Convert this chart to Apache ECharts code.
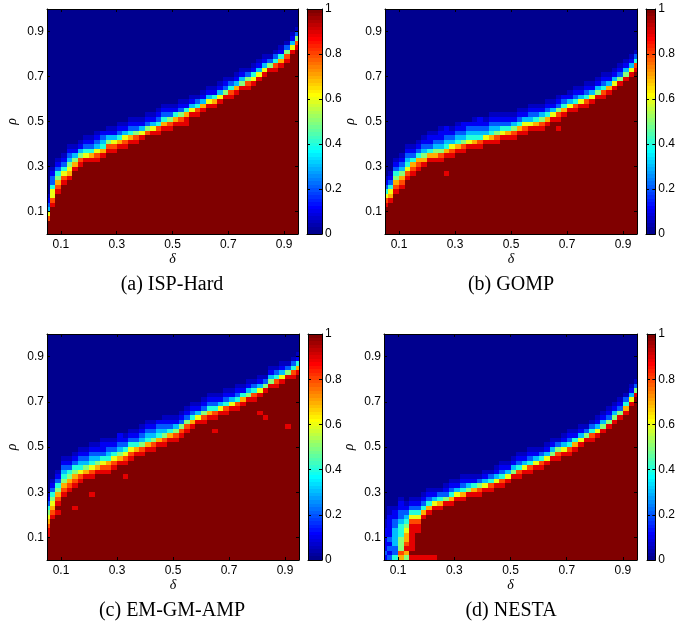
<!DOCTYPE html>
<html><head><meta charset="utf-8">
<script src="https://cdn.jsdelivr.net/npm/echarts@6/dist/echarts.min.js"></script>
<style>html,body{margin:0;padding:0;background:#fff}#c{width:678px;height:622px}</style>
</head><body><div id="c"></div>
<script>
// ---- tick labels / captions ----
const deltaTicks = [0.1, 0.3, 0.5, 0.7, 0.9];
const rhoTicks = [0.1, 0.3, 0.5, 0.7, 0.9];
const colorbarTicks = [0, 0.2, 0.4, 0.6, 0.8, 1];
const captions = ['(a) ISP-Hard', '(b) GOMP', '(c) EM-GM-AMP', '(d) NESTA'];

// ---- grid coordinates (cell centres) ----
const deltaGrid = []; for (let i = 0; i < 46; i++) deltaGrid.push(+(0.05 + 0.02 * i).toFixed(2));
const rhoGrid = []; for (let j = 0; j < 50; j++) rhoGrid.push(+(0.01 + 0.02 * j).toFixed(2));

// ---- per-column readings: [first non-full row, values upward]; X=1, o=0.05, digit=d/10; below=1, above=0 ----
const ispHardCols = [
 [3,"86321o"],[6,"98664221o"],[9,"9875421o"],[11,"986421o"],[12,"9765321o"],[13,"X97531o"],
 [15,"98531o"],[15,"X96421o"],[16,"97421o"],[16,"986321o"],[17,"974321"],[17,"X98531o"],
 [18,"98631o"],[19,"97421o"],[19,"98631o"],[20,"97421o"],[19,"X98521o"],[20,"X9631o"],
 [21,"X8521o"],[22,"9631o"],[22,"98421o"],[23,"97421o"],[23,"98521o"],[24,"9741o"],
 [24,"98521o"],[25,"9741o"],[25,"X9631o"],[26,"9842o"],[27,"9731o"],[27,"X9631o"],
 [28,"9741o"],[29,"9631o"],[29,"X9521o"],[30,"9842o"],[31,"9731o"],[31,"X9531o"],
 [32,"9852o"],[33,"9641o"],[34,"9631o"],[35,"9631o"],[35,"X952o"],[36,"9842o"],
 [37,"9741o"],[38,"9852o"],[40,"9631o"],[41,"9852o"]
];
const ispHardSpots = [[25,24,0.9]];

const gompCols = [
 [6,"986421o"],[6,"X976421o"],[9,"9875421o"],[10,"9875321o"],[12,"9864321o"],[13,"987421o"],
 [14,"987421o"],[15,"975321o"],[15,"X974211o"],[16,"975321o"],[16,"9853211o"],[17,"9743211"],
 [17,"986321o"],[18,"974321o"],[18,"9853211"],[18,"X964321"],[19,"974321o"],[19,"9843211"],
 [19,"X96321o"],[20,"974321o"],[20,"985321o"],[20,"X96421o"],[21,"97421o"],[21,"98531o"],
 [22,"97421o"],[22,"98631o"],[22,"X96321o"],[23,"97421o"],[23,"98531o"],[24,"97421o"],
 [25,"9631o"],[25,"98521o"],[26,"97421"],[27,"9631o"],[27,"98421o"],[28,"9631o"],
 [28,"98421o"],[29,"9631o"],[29,"X9531o"],[30,"98421o"],[31,"9731o"],[32,"9631o"],
 [32,"X9521o"],[33,"X9531o"],[35,"9631o"],[36,"9842o"]
];
const gompSpots = [[11,13,0.9],[31,23,0.9]];

const emgmampCols = [
 [5,"998765421o"],[9,"98765421o"],[11,"X9875421o"],[14,"98754321o"],[15,"9875421o"],[16,"9875421o"],
 [17,"9864321o"],[17,"X975321o"],[18,"9864321o"],[18,"X975321o"],[19,"9864211o"],[19,"9874321o"],
 [20,"986421o"],[21,"9753211"],[21,"986421o"],[22,"986421o"],[22,"X97421o"],[23,"985321o"],
 [24,"974321o"],[24,"985321o"],[25,"974321"],[25,"985321o"],[26,"97421o"],[26,"98531o"],
 [27,"98521o"],[28,"98521o"],[29,"97421o"],[30,"9631o"],[30,"98521o"],[31,"97421o"],
 [31,"98421o"],[32,"9631o"],[32,"98421o"],[33,"9631o"],[33,"98421o"],[34,"9741o"],
 [34,"X9531o"],[35,"9842o"],[36,"9631o"],[36,"X952o"],[37,"X9531o"],[38,"9842o"],
 [39,"9631o"],[39,"X952o"],[40,"9842o"],[41,"9741o"]
];
const emgmampSpots = [[2,10,0.9],[5,11,0.9],[8,14,0.9],[14,18,0.9],[30,28,0.9],[38,32,0.9],[39,31,0.9],[43,29,0.9]];

const nestaCols = [
 [0,"1211111oo"],[0,"2121211111oo"],[0,"42233332211o"],[0,"7855544432211o"],[0,"579877654321o"],
 [0,"9X99999986421o"],[0,"9XXXXX9986421o"],[0,"9XXXXXXXX97421o"],[0,"9XXXXXXXXX97421o"],
 [11,"9631o"],[11,"9742o"],[11,"X9521o"],[12,"97421o"],[12,"X9631o"],[13,"97421o"],
 [13,"X9531o"],[14,"9741o"],[14,"9852o"],[15,"9631o"],[15,"9842o"],[16,"9631o"],
 [16,"98421o"],[17,"9631o"],[17,"X9531o"],[18,"98421o"],[19,"9631o"],[19,"98421o"],
 [20,"9631o"],[20,"9842o"],[21,"9631o"],[21,"X9531o"],[22,"9852o"],[23,"9631o"],
 [23,"98421o"],[24,"9741o"],[25,"9631o"],[25,"X952o"],[26,"9842o"],[27,"9631o"],
 [27,"X9531o"],[28,"X9521o"],[29,"X9531o"],[30,"X9521o"],[32,"9742o"],[33,"X9631o"],[35,"X952o"]
];
const nestaSpots = [[9,0,0.9]];

// ---- build tables ----
const charVal = c => c === 'X' ? 1 : c === 'o' ? 0.05 : (+c) / 10;
function buildCells(cols, spots) {
  const out = [];
  cols.forEach(([s, str], i) => {
    for (let j = 0; j < rhoGrid.length; j++) {
      let v;
      if (j < s) v = 1; else if (j - s < str.length) v = charVal(str[j - s]); else v = 0;
      out.push([deltaGrid[i], rhoGrid[j], v]);
    }
  });
  spots.forEach(([i, j, v]) => { out[i * rhoGrid.length + j][2] = v; });
  return out;
}

// MATLAB jet(64)
function jetPalette(n) {
  const m = n / 4;
  const u = p => (p >= 1 && p <= m) ? p / m : (p > m && p <= 2 * m - 1) ? 1 : (p >= 2 * m && p <= 3 * m - 1) ? (3 * m - p) / m : 0;
  const hx = x => ('0' + Math.round(x * 255).toString(16)).slice(-2);
  const out = [];
  for (let k = 1; k <= n; k++) out.push('#' + hx(u(k - 24)) + hx(u(k - 8)) + hx(u(k + 8)));
  return out;
}
const palette = jetPalette(64);
const colorbarData = [];
for (let k = 0; k < 64; k++) colorbarData.push([0.5, (k + 0.5) / 64, k / 63, k / 64, (k + 1) / 64]);

const panels = [
  { cells: buildCells(ispHardCols, ispHardSpots), main: [47, 9, 251, 225], cb: [307, 9, 15, 225], cap: [172, 285] },
  { cells: buildCells(gompCols, gompSpots), main: [385, 9, 252, 225], cb: [646, 9, 15, 225], cap: [511, 285] },
  { cells: buildCells(emgmampCols, emgmampSpots), main: [47, 334, 252, 226], cb: [308, 334, 14, 226], cap: [172, 611] },
  { cells: buildCells(nestaCols, nestaSpots), main: [384, 334, 253, 226], cb: [647, 334, 14, 226], cap: [511, 611] }
];

const sansFont = 'Liberation Sans, Arial, sans-serif';
const serifFont = 'Liberation Serif, Times New Roman, serif';
const axisLine = { show: true, onZero: false, lineStyle: { color: '#000', width: 1 } };
const tick = vals => ({ show: true, inside: true, length: 3, lineStyle: { color: '#000', width: 1 }, customValues: vals });
const lbl = (vals, margin) => ({ show: true, color: '#000', fontSize: 12, fontFamily: sansFont, margin, customValues: vals,
  formatter: v => String(+(+v).toFixed(1)) });
const nameStyle = { fontFamily: serifFont, fontStyle: 'italic', fontSize: 14, color: '#000' };

const grid = [], xAxis = [], yAxis = [], series = [], graphic = [];
panels.forEach((p, k) => {
  const gm = grid.length;
  grid.push({ left: p.main[0], top: p.main[1], width: p.main[2], height: p.main[3] });
  const gc = grid.length;
  grid.push({ left: p.cb[0], top: p.cb[1], width: p.cb[2], height: p.cb[3] });

  const xm = xAxis.length;
  xAxis.push({ type: 'value', gridIndex: gm, min: 0.05, max: 0.95, position: 'bottom', z: 10, axisLine,
    axisTick: tick(deltaTicks), axisLabel: lbl(deltaTicks, 5), splitLine: { show: false },
    name: 'δ', nameLocation: 'middle', nameGap: 15, nameTextStyle: nameStyle });
  xAxis.push({ type: 'value', gridIndex: gm, min: 0.05, max: 0.95, position: 'top', z: 10, axisLine,
    axisTick: tick(deltaTicks), axisLabel: { show: false }, splitLine: { show: false } });
  const xc = xAxis.length;
  xAxis.push({ type: 'value', gridIndex: gc, min: 0, max: 1, position: 'bottom', z: 10, axisLine,
    axisTick: { show: false }, axisLabel: { show: false }, splitLine: { show: false } });
  xAxis.push({ type: 'value', gridIndex: gc, min: 0, max: 1, position: 'top', z: 10, axisLine,
    axisTick: { show: false }, axisLabel: { show: false }, splitLine: { show: false } });

  const ym = yAxis.length;
  yAxis.push({ type: 'value', gridIndex: gm, min: 0, max: 1, position: 'left', z: 10, axisLine,
    axisTick: tick(rhoTicks), axisLabel: lbl(rhoTicks, 3), splitLine: { show: false },
    name: 'ρ', nameLocation: 'middle', nameGap: 28, nameRotate: 90, nameTextStyle: nameStyle });
  yAxis.push({ type: 'value', gridIndex: gm, min: 0, max: 1, position: 'right', z: 10, axisLine,
    axisTick: tick(rhoTicks), axisLabel: { show: false }, splitLine: { show: false } });
  const yc = yAxis.length;
  yAxis.push({ type: 'value', gridIndex: gc, min: 0, max: 1, position: 'right', z: 10, axisLine,
    axisTick: tick(colorbarTicks), axisLabel: lbl(colorbarTicks, 3), splitLine: { show: false } });
  yAxis.push({ type: 'value', gridIndex: gc, min: 0, max: 1, position: 'left', z: 10, axisLine,
    axisTick: tick(colorbarTicks), axisLabel: { show: false }, splitLine: { show: false } });

  series.push({ type: 'custom', xAxisIndex: xm, yAxisIndex: ym, data: p.cells, clip: true, animation: false,
    encode: { x: 0, y: 1 },
    renderItem: (params, api) => {
      const x = api.value(0), y = api.value(1);
      const a = api.coord([x - 0.01, y + 0.01]), b = api.coord([x + 0.01, y - 0.01]);
      const x0 = Math.round(a[0]), y0 = Math.round(a[1]), x1 = Math.round(b[0]), y1 = Math.round(b[1]);
      return { type: 'rect', shape: { x: x0, y: y0, width: x1 - x0, height: y1 - y0 }, style: { fill: api.visual('color') } };
    } });
  series.push({ type: 'custom', xAxisIndex: xc, yAxisIndex: yc, data: colorbarData, clip: true, animation: false,
    encode: { x: 0, y: 1 },
    renderItem: (params, api) => {
      const a = api.coord([0, api.value(4)]), b = api.coord([1, api.value(3)]);
      const y0 = Math.round(a[1]), y1 = Math.round(b[1]);
      return { type: 'rect', shape: { x: a[0], y: y0, width: b[0] - a[0], height: y1 - y0 }, style: { fill: api.visual('color') } };
    } });

  graphic.push({ type: 'text', x: p.cap[0], y: p.cap[1],
    style: { text: captions[k], font: '20px ' + serifFont, fill: '#000', align: 'center', verticalAlign: 'middle',
      textAlign: 'center', textVerticalAlign: 'middle' } });
});

const chart = echarts.init(document.getElementById('c'), null, { renderer: 'canvas' });
chart.setOption({
  animation: false,
  backgroundColor: '#fff',
  grid, xAxis, yAxis, series, graphic,
  visualMap: { type: 'continuous', show: false, min: 0, max: 1, dimension: 2,
    seriesIndex: series.map((s, i) => i), inRange: { color: palette } }
});
</script></body></html>
